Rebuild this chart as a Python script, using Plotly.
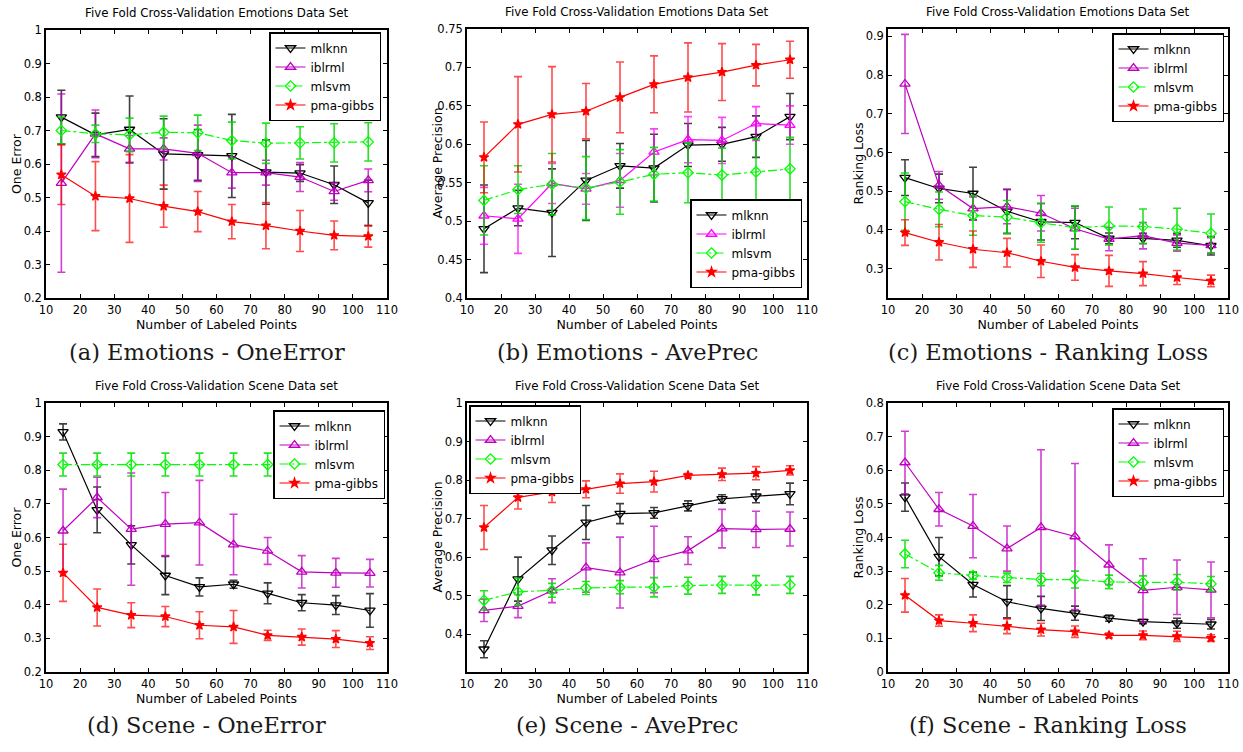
import plotly.graph_objects as go

# ---------------- data ----------------
X = [15, 25, 35, 45, 55, 65, 75, 85, 95, 105]
X_A = [14.5, 24.5, 34.5, 44.5, 54.5, 64.5, 74.5, 84.5, 94.5, 104.5]
X_TICKS = [10, 20, 30, 40, 50, 60, 70, 80, 90, 100, 110]
SERIES = ["mlknn", "iblrml", "mlsvm", "pma-gibbs"]

# (a) Emotions - OneError
A_MLKNN = [0.740, 0.687, 0.703, 0.630, 0.627, 0.624, 0.576, 0.573, 0.538, 0.484]
A_MLKNN_E = [0.080, 0.065, 0.100, 0.105, 0.076, 0.124, 0.096, 0.025, 0.056, 0.068]
A_IBLRML = [0.543, 0.690, 0.645, 0.645, 0.632, 0.574, 0.574, 0.561, 0.518, 0.551]
A_IBLRML_E = [0.266, 0.071, 0.040, 0.033, 0.084, 0.046, 0.037, 0.043, 0.026, 0.034]
A_MLSVM = [0.700, 0.690, 0.687, 0.695, 0.693, 0.670, 0.662, 0.663, 0.663, 0.666]
A_MLSVM_E = [0.040, 0.026, 0.050, 0.048, 0.053, 0.055, 0.060, 0.048, 0.057, 0.057]
A_PMA = [0.568, 0.504, 0.497, 0.474, 0.458, 0.428, 0.416, 0.400, 0.387, 0.384]
A_PMA_E = [0.089, 0.103, 0.131, 0.063, 0.060, 0.051, 0.069, 0.061, 0.043, 0.032]

# (b) Emotions - AvePrec
B_MLKNN = [0.490, 0.517, 0.511, 0.553, 0.572, 0.569, 0.599, 0.600, 0.610, 0.636]
B_MLKNN_E = [0.057, 0.023, 0.057, 0.052, 0.029, 0.044, 0.028, 0.022, 0.027, 0.030]
B_IBLRML = [0.507, 0.503, 0.549, 0.542, 0.553, 0.590, 0.606, 0.605, 0.627, 0.625]
B_IBLRML_E = [0.037, 0.045, 0.026, 0.020, 0.035, 0.030, 0.030, 0.030, 0.022, 0.025]
B_MLSVM = [0.527, 0.541, 0.548, 0.543, 0.551, 0.561, 0.563, 0.560, 0.564, 0.568]
B_MLSVM_E = [0.045, 0.031, 0.040, 0.041, 0.042, 0.035, 0.039, 0.035, 0.043, 0.041]
B_PMA = [0.583, 0.626, 0.639, 0.643, 0.661, 0.678, 0.687, 0.694, 0.703, 0.710]
B_PMA_E = [0.046, 0.062, 0.062, 0.036, 0.046, 0.037, 0.045, 0.037, 0.027, 0.024]

# (c) Emotions - Ranking Loss
C_MLKNN = [0.535, 0.507, 0.494, 0.448, 0.421, 0.419, 0.378, 0.378, 0.373, 0.359]
C_MLKNN_E = [0.046, 0.037, 0.068, 0.057, 0.047, 0.042, 0.014, 0.013, 0.018, 0.024]
C_IBLRML = [0.777, 0.515, 0.455, 0.460, 0.443, 0.403, 0.376, 0.385, 0.366, 0.360]
C_IBLRML_E = [0.128, 0.036, 0.030, 0.044, 0.046, 0.053, 0.030, 0.034, 0.021, 0.020]
C_MLSVM = [0.473, 0.453, 0.437, 0.433, 0.418, 0.406, 0.410, 0.409, 0.402, 0.391]
C_MLSVM_E = [0.074, 0.045, 0.051, 0.043, 0.050, 0.056, 0.049, 0.045, 0.054, 0.050]
C_PMA = [0.393, 0.368, 0.350, 0.341, 0.319, 0.303, 0.294, 0.287, 0.277, 0.268]
C_PMA_E = [0.033, 0.046, 0.047, 0.037, 0.042, 0.033, 0.040, 0.031, 0.018, 0.015]

# (d) Scene - OneError
D_MLKNN = [0.914, 0.682, 0.578, 0.487, 0.453, 0.461, 0.434, 0.406, 0.399, 0.383]
D_MLKNN_E = [0.024, 0.068, 0.057, 0.057, 0.027, 0.012, 0.031, 0.024, 0.028, 0.050]
D_IBLRML = [0.620, 0.719, 0.625, 0.640, 0.644, 0.579, 0.560, 0.498, 0.495, 0.494]
D_IBLRML_E = [0.124, 0.060, 0.167, 0.094, 0.126, 0.090, 0.040, 0.048, 0.043, 0.041]
D_MLSVM = [0.817, 0.817, 0.817, 0.817, 0.817, 0.817, 0.817, 0.817, 0.817, 0.817]
D_MLSVM_E = [0.034, 0.034, 0.034, 0.034, 0.034, 0.034, 0.034, 0.034, 0.034, 0.034]
D_PMA = [0.495, 0.392, 0.369, 0.365, 0.339, 0.334, 0.309, 0.304, 0.298, 0.286]
D_PMA_E = [0.085, 0.055, 0.037, 0.030, 0.040, 0.049, 0.015, 0.024, 0.025, 0.019]

# (e) Scene - AvePrec
E_MLKNN = [0.361, 0.543, 0.618, 0.690, 0.713, 0.715, 0.733, 0.751, 0.758, 0.764]
E_MLKNN_E = [0.022, 0.057, 0.037, 0.044, 0.026, 0.014, 0.013, 0.011, 0.017, 0.028]
E_IBLRML = [0.462, 0.473, 0.513, 0.573, 0.560, 0.594, 0.617, 0.674, 0.672, 0.673]
E_IBLRML_E = [0.029, 0.030, 0.031, 0.064, 0.092, 0.086, 0.036, 0.050, 0.047, 0.044]
E_MLSVM = [0.488, 0.510, 0.514, 0.520, 0.522, 0.522, 0.526, 0.528, 0.527, 0.528]
E_MLSVM_E = [0.025, 0.035, 0.018, 0.017, 0.017, 0.025, 0.022, 0.022, 0.025, 0.022]
E_PMA = [0.677, 0.755, 0.769, 0.776, 0.791, 0.796, 0.812, 0.815, 0.818, 0.825]
E_PMA_E = [0.057, 0.030, 0.027, 0.022, 0.025, 0.027, 0.005, 0.016, 0.017, 0.012]

# (f) Scene - Ranking Loss
F_MLKNN = [0.520, 0.343, 0.260, 0.209, 0.189, 0.175, 0.160, 0.150, 0.145, 0.142]
F_MLKNN_E = [0.042, 0.057, 0.037, 0.048, 0.036, 0.021, 0.009, 0.006, 0.015, 0.014]
F_IBLRML = [0.623, 0.484, 0.434, 0.367, 0.430, 0.403, 0.319, 0.243, 0.252, 0.244]
F_IBLRML_E = [0.093, 0.050, 0.094, 0.067, 0.231, 0.217, 0.059, 0.094, 0.081, 0.083]
F_MLSVM = [0.351, 0.295, 0.287, 0.280, 0.275, 0.275, 0.268, 0.266, 0.267, 0.262]
F_MLSVM_E = [0.041, 0.022, 0.011, 0.014, 0.018, 0.025, 0.020, 0.020, 0.023, 0.022]
F_PMA = [0.228, 0.153, 0.145, 0.136, 0.126, 0.120, 0.109, 0.109, 0.106, 0.101]
F_PMA_E = [0.050, 0.017, 0.025, 0.022, 0.019, 0.017, 0.007, 0.013, 0.015, 0.010]

TITLE_EMO = "Five Fold Cross-Validation Emotions Data Set"
TITLE_SCENE_1 = "Five Fold Cross-Validation Scene Data set"
TITLE_SCENE_2 = "Five Fold Cross-Validation Scene Data Set"
X_LABEL = "Number of Labeled Points"
CAPTIONS = ["(a) Emotions - OneError", "(b) Emotions - AvePrec", "(c) Emotions - Ranking Loss",
            "(d) Scene - OneError", "(e) Scene - AvePrec", "(f) Scene - Ranking Loss"]

# ---------------- styling ----------------
W, H = 1243, 752
SANS = "DejaVu Sans, Arial, sans-serif"
SERIF = "DejaVu Serif, Liberation Serif, serif"


def px_x(p):
    return p / W


def px_y(p):
    return 1 - p / H


STYLE = {
    "mlknn": dict(color="black", err="rgba(0,0,0,0.75)", symbol="triangle-down-open", size=9, dash="solid"),
    "iblrml": dict(color="#bf00bf", err="rgba(191,0,191,0.75)", symbol="triangle-up-open", size=9, dash="solid"),
    "mlsvm": dict(color="#00ff00", err="rgba(0,220,0,0.85)", symbol="diamond-open", size=8, dash="dashdot"),
    "pma-gibbs": dict(color="#ff0000", err="rgba(255,0,0,0.7)", symbol="star", size=7, dash="solid"),
}

PANELS = [
    dict(x=X_A, data=[(A_MLKNN, A_MLKNN_E), (A_IBLRML, A_IBLRML_E), (A_MLSVM, A_MLSVM_E), (A_PMA, A_PMA_E)],
         title=TITLE_EMO, ylabel="One Error", yrange=[0.2, 1.0],
         yticks=[0.2, 0.3, 0.4, 0.5, 0.6, 0.7, 0.8, 0.9, 1.0],
         ytext=["0.2", "0.3", "0.4", "0.5", "0.6", "0.7", "0.8", "0.9", "1"],
         box=(46, 30, 387, 298), cap=352, legend=dict(x=381, y=32, xa="right", ya="top")),
    dict(x=X, data=[(B_MLKNN, B_MLKNN_E), (B_IBLRML, B_IBLRML_E), (B_MLSVM, B_MLSVM_E), (B_PMA, B_PMA_E)],
         title=TITLE_EMO, ylabel="Average Precision", yrange=[0.4, 0.75],
         yticks=[0.4, 0.45, 0.5, 0.55, 0.6, 0.65, 0.7, 0.75],
         ytext=["0.4", "0.45", "0.5", "0.55", "0.6", "0.65", "0.7", "0.75"],
         box=(467, 29, 807, 298), cap=352, legend=dict(x=802, y=288, xa="right", ya="bottom"),
         ibl_color="#ff00ff"),
    dict(x=X, data=[(C_MLKNN, C_MLKNN_E), (C_IBLRML, C_IBLRML_E), (C_MLSVM, C_MLSVM_E), (C_PMA, C_PMA_E)],
         title=TITLE_EMO, ylabel="Ranking Loss", yrange=[0.224, 0.919],
         yticks=[0.3, 0.4, 0.5, 0.6, 0.7, 0.8, 0.9],
         ytext=["0.3", "0.4", "0.5", "0.6", "0.7", "0.8", "0.9"],
         box=(888, 29, 1228, 298), cap=352, legend=dict(x=1224, y=33, xa="right", ya="top")),
    dict(x=X, data=[(D_MLKNN, D_MLKNN_E), (D_IBLRML, D_IBLRML_E), (D_MLSVM, D_MLSVM_E), (D_PMA, D_PMA_E)],
         title=TITLE_SCENE_1, ylabel="One Error", yrange=[0.2, 1.0],
         yticks=[0.2, 0.3, 0.4, 0.5, 0.6, 0.7, 0.8, 0.9, 1.0],
         ytext=["0.2", "0.3", "0.4", "0.5", "0.6", "0.7", "0.8", "0.9", "1"],
         box=(46, 403, 387, 672), cap=725, legend=dict(x=385, y=410, xa="right", ya="top")),
    dict(x=X, data=[(E_MLKNN, E_MLKNN_E), (E_IBLRML, E_IBLRML_E), (E_MLSVM, E_MLSVM_E), (E_PMA, E_PMA_E)],
         title=TITLE_SCENE_2, ylabel="Average Precision", yrange=[0.302, 1.0],
         yticks=[0.4, 0.5, 0.6, 0.7, 0.8, 0.9, 1.0],
         ytext=["0.4", "0.5", "0.6", "0.7", "0.8", "0.9", "1"],
         box=(467, 403, 807, 672), cap=725, legend=dict(x=469, y=405, xa="left", ya="top")),
    dict(x=X, data=[(F_MLKNN, F_MLKNN_E), (F_IBLRML, F_IBLRML_E), (F_MLSVM, F_MLSVM_E), (F_PMA, F_PMA_E)],
         title=TITLE_SCENE_2, ylabel="Ranking Loss", yrange=[0.0, 0.8],
         yticks=[0.0, 0.1, 0.2, 0.3, 0.4, 0.5, 0.6, 0.7, 0.8],
         ytext=["0", "0.1", "0.2", "0.3", "0.4", "0.5", "0.6", "0.7", "0.8"],
         box=(888, 403, 1228, 672), cap=725, legend=dict(x=1224, y=408, xa="right", ya="top")),
]

fig = go.Figure()
layout = dict(
    template="none",
    width=W, height=H, margin=dict(l=0, r=0, t=0, b=0, autoexpand=False),
    paper_bgcolor="white", plot_bgcolor="white",
    font=dict(family=SANS, size=12, color="black"),
    annotations=[], showlegend=True,
)

for i, p in enumerate(PANELS):
    n = i + 1
    xa = "x" if n == 1 else f"x{n}"
    ya = "y" if n == 1 else f"y{n}"
    lg = "legend" if n == 1 else f"legend{n}"
    x0, y0, x1, y1 = p["box"]
    common = dict(showline=True, linecolor="black", linewidth=1.5, mirror="allticks",
                  ticks="inside", ticklen=4, tickwidth=1, tickcolor="black", automargin=False,
                  ticklabeloverflow="allow",
                  showgrid=False, zeroline=False, tickfont=dict(family=SANS, size=11.5, color="black"))
    layout[("xaxis" if n == 1 else f"xaxis{n}")] = dict(
        common, domain=[px_x(x0), px_x(x1)], anchor=ya, range=[10, 110],
        tickvals=X_TICKS, ticktext=[str(v) for v in X_TICKS],
        title=dict(text=X_LABEL, font=dict(family=SANS, size=12.5), standoff=3))
    layout[("yaxis" if n == 1 else f"yaxis{n}")] = dict(
        common, domain=[px_y(y1), px_y(y0)], anchor=xa, range=p["yrange"],
        tickvals=p["yticks"], ticktext=p["ytext"])
    L = p["legend"]
    layout[lg] = dict(
        x=px_x(L["x"]), y=px_y(L["y"]), xanchor=L["xa"], yanchor=L["ya"],
        xref="paper", yref="paper",
        bgcolor="white", bordercolor="black", borderwidth=1.5,
        font=dict(family=SANS, size=12, color="black"),
        tracegroupgap=0, itemwidth=30)
    # y-axis title
    layout["annotations"].append(dict(
        text=p["ylabel"], x=px_x(x0 - 30), y=px_y((y0 + y1) / 2), xref="paper", yref="paper",
        xanchor="center", yanchor="middle", textangle=-90, showarrow=False,
        font=dict(family=SANS, size=12.5, color="black")))
    # panel title
    layout["annotations"].append(dict(
        text=p["title"], x=px_x((x0 + x1) / 2), y=px_y(y0 - 17), xref="paper", yref="paper",
        xanchor="center", yanchor="middle", showarrow=False,
        font=dict(family=SANS, size=11.8, color="black")))
    # caption
    layout["annotations"].append(dict(
        text=CAPTIONS[i], x=px_x((x0 + x1) / 2 - 10), y=px_y(p["cap"]), xref="paper", yref="paper",
        xanchor="center", yanchor="middle", showarrow=False,
        font=dict(family=SERIF, size=22.5, color="#1a1a1a")))

    for name, (vals, errs) in zip(SERIES, p["data"]):
        st = dict(STYLE[name])
        if name == "iblrml" and "ibl_color" in p:
            st["color"] = p["ibl_color"]
            st["err"] = "rgba(255,0,255,0.75)"
        fig.add_trace(go.Scatter(
            x=p["x"], y=vals, name=name, mode="lines+markers",
            xaxis=xa, yaxis=ya, legend=lg,
            line=dict(color=st["color"], width=1.2, dash=st["dash"]),
            marker=dict(symbol=st["symbol"], size=st["size"], color=st["color"],
                        line=dict(color=st["color"], width=1.3)),
            error_y=dict(type="data", array=errs, visible=True, color=st["err"],
                         thickness=1.6, width=4),
            cliponaxis=True,
        ))

fig.update_layout(**layout)
fig.write_html("out.html", config={"displayModeBar": False},
               post_script="document.body.style.margin='0';")
